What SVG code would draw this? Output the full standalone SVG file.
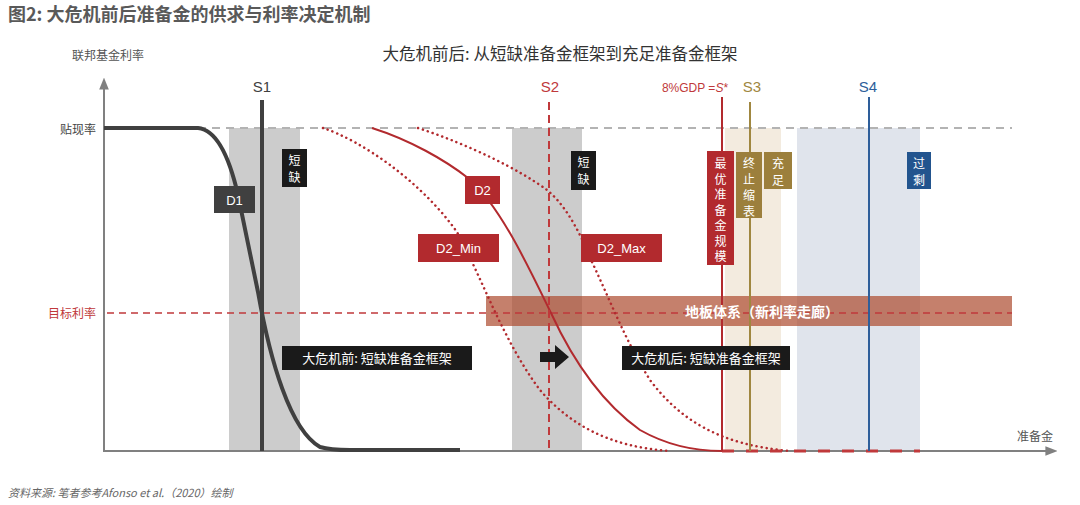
<svg xmlns="http://www.w3.org/2000/svg" width="1080" height="505" viewBox="0 0 1080 505">
<defs>
<style>
text{font-family:"Liberation Sans","Noto Sans CJK SC",sans-serif;}
.cjk{font-family:"Noto Sans CJK SC","Liberation Sans",sans-serif;}
.wt{fill:#fff;font-size:13px;text-anchor:middle;}
.vt{fill:#fff;font-size:12px;text-anchor:middle;}
.lab{font-size:15px;text-anchor:middle;}
</style>
<marker id="ah" viewBox="0 0 10 10" refX="8" refY="5" markerWidth="6" markerHeight="6" orient="auto-start-reverse"><path d="M0,1 L10,5 L0,9 z" fill="#808080"/></marker>
</defs>
<rect width="1080" height="505" fill="#fff"/>
<text x="8" y="21" class="cjk" font-size="18" font-weight="bold" fill="#595959">图2: 大危机前后准备金的供求与利率决定机制</text>
<text x="560" y="60" class="cjk" font-size="16.5" fill="#333" text-anchor="middle">大危机前后: 从短缺准备金框架到充足准备金框架</text>
<text x="108" y="60" class="cjk" font-size="12" fill="#555" text-anchor="middle">联邦基金利率</text>

<g id="bands">
<rect x="229" y="128" width="71" height="323" fill="#cccccc"/>
<rect x="512" y="128" width="70" height="323" fill="#cccccc"/>
<rect x="725" y="128" width="56" height="323" fill="#f3ebdf"/>
<rect x="797" y="128" width="123" height="323" fill="#e0e4ec"/>
</g>

<g id="axes">
<line x1="104" y1="451" x2="104" y2="80" stroke="#808080" stroke-width="2" marker-end="url(#ah)"/>
<line x1="103" y1="451" x2="1055" y2="451" stroke="#808080" stroke-width="2" marker-end="url(#ah)"/>
<text x="1035" y="441" class="cjk" font-size="12" fill="#555" text-anchor="middle">准备金</text>
<text x="96" y="134" class="cjk" font-size="12" fill="#444" text-anchor="end">贴现率</text>
<text x="96" y="318" class="cjk" font-size="12" fill="#c0393b" text-anchor="end">目标利率</text>
<line x1="198" y1="128" x2="1012" y2="128" stroke="#b3b3b3" stroke-width="2" stroke-dasharray="8 6"/>
</g>

<g id="floor">
<rect x="486" y="296" width="526" height="30" fill="#ac4a2d" fill-opacity="0.7"/>
</g>

<g id="connectors" fill="none">
<line x1="107" y1="313" x2="1012" y2="313" stroke="#c0393b" stroke-width="1.5" stroke-dasharray="7 5"/>
<path d="M104,128 H198 C218,130 230,160 238,195 L258,292 C270,360 290,430 320,447 C330,450 340,450 350,450 H460" stroke="#404040" stroke-width="4"/>
<path d="M323,128 C360,140 420,180 457,232 L472,262 C490,300 510,350 540,390 C570,425 610,447 670,451" stroke="#b22a2e" stroke-width="2.5" stroke-dasharray="0.1 5" stroke-linecap="round"/>
<path d="M418,128 C470,145 520,170 547,190 C565,205 575,225 585,245 L592,262 C610,300 625,340 650,380 C680,420 720,445 790,451" stroke="#b22a2e" stroke-width="2.5" stroke-dasharray="0.1 5" stroke-linecap="round"/>
<path d="M372,128 C410,140 445,160 468,178 C500,205 530,270 551,313 C575,365 605,405 640,430 C670,447 700,451 722,451" stroke="#b22a2e" stroke-width="2"/>
<line x1="722" y1="451" x2="920" y2="451" stroke="#c0393b" stroke-width="3" stroke-dasharray="12 12"/>
</g>

<g id="S1">
<line x1="262" y1="100" x2="262" y2="451" stroke="#404040" stroke-width="4"/>
<text x="262" y="92" class="lab" fill="#404040">S1</text>
</g>
<g id="S2">
<line x1="549" y1="102" x2="549" y2="451" stroke="#c0393b" stroke-width="2" stroke-dasharray="8 5"/>
<text x="550" y="92" class="lab" fill="#c0393b">S2</text>
</g>
<g id="Sstar">
<line x1="722" y1="97" x2="722" y2="451" stroke="#b22a2e" stroke-width="2"/>
<text x="695" y="92" font-size="12" fill="#c0393b" text-anchor="middle">8%GDP =<tspan font-style="italic">S</tspan>*</text>
</g>
<g id="S3">
<line x1="750" y1="102" x2="750" y2="451" stroke="#a08740" stroke-width="2"/>
<text x="752" y="92" class="lab" fill="#a08740">S3</text>
</g>
<g id="S4">
<line x1="869" y1="97" x2="869" y2="451" stroke="#2e5e9a" stroke-width="2"/>
<text x="868" y="92" class="lab" fill="#2e5e9a">S4</text>
</g>

<g id="floorlabel">
<text x="762" y="317" class="cjk" font-size="14" font-weight="bold" fill="#fff" text-anchor="middle">地板体系（新利率走廊）</text>
</g>

<g id="D1">
<rect x="214" y="186" width="41" height="27" fill="#404040"/>
<text x="234.5" y="205" class="wt" font-size="14">D1</text>
</g>
<g id="D2">
<rect x="465" y="176" width="35" height="28" fill="#b22a2e"/>
<text x="482.5" y="195" class="wt" font-size="14">D2</text>
</g>
<g id="D2_Min">
<rect x="418" y="234" width="81" height="28" fill="#b22a2e"/>
<text x="458.5" y="253" class="wt" font-size="14">D2_Min</text>
</g>
<g id="D2_Max">
<rect x="581" y="234" width="81" height="28" fill="#b22a2e"/>
<text x="621.5" y="253" class="wt" font-size="14">D2_Max</text>
</g>

<g id="short1">
<rect x="282" y="149" width="25" height="38" fill="#1a1a1a"/>
<text class="vt cjk" font-size="12.5"><tspan x="294.5" y="165">短</tspan><tspan x="294.5" y="182">缺</tspan></text>
</g>
<g id="short2">
<rect x="571" y="151" width="25" height="39" fill="#1a1a1a"/>
<text class="vt cjk" font-size="12.5"><tspan x="583.5" y="167">短</tspan><tspan x="583.5" y="184">缺</tspan></text>
</g>
<g id="optimal">
<rect x="707" y="151" width="27" height="114" fill="#b22a2e"/>
<text class="vt cjk"><tspan x="720.5" y="168">最</tspan><tspan x="720.5" y="183.5">优</tspan><tspan x="720.5" y="199">准</tspan><tspan x="720.5" y="214.5">备</tspan><tspan x="720.5" y="230">金</tspan><tspan x="720.5" y="245.5">规</tspan><tspan x="720.5" y="261">模</tspan></text>
</g>
<g id="stopqt">
<rect x="736" y="152" width="26" height="66" fill="#9c7f3c"/>
<text class="vt cjk"><tspan x="749" y="168">终</tspan><tspan x="749" y="184">止</tspan><tspan x="749" y="200">缩</tspan><tspan x="749" y="216">表</tspan></text>
</g>
<g id="ample">
<rect x="764" y="152" width="28" height="37" fill="#9c7f3c"/>
<text class="vt cjk" font-size="12.5"><tspan x="778" y="168">充</tspan><tspan x="778" y="185">足</tspan></text>
</g>
<g id="excess">
<rect x="907" y="152" width="24" height="37" fill="#22548e"/>
<text class="vt cjk" font-size="12.5"><tspan x="919" y="168">过</tspan><tspan x="919" y="185">剩</tspan></text>
</g>

<g id="before">
<rect x="282" y="346" width="190" height="24" fill="#1a1a1a"/>
<text x="377" y="363" class="wt cjk">大危机前: 短缺准备金框架</text>
</g>
<g id="arrow">
<path d="M540,352 H555 V345 L569,357 L555,369 V362 H540 z" fill="#1a1a1a"/>
</g>
<g id="after">
<rect x="622" y="346" width="168" height="24" fill="#1a1a1a"/>
<text x="706" y="363" class="wt cjk">大危机后: 短缺准备金框架</text>
</g>

<text x="8" y="497" class="cjk" font-size="11" font-style="italic" fill="#666">资料来源: 笔者参考Afonso et al.（2020）绘制</text>
</svg>
